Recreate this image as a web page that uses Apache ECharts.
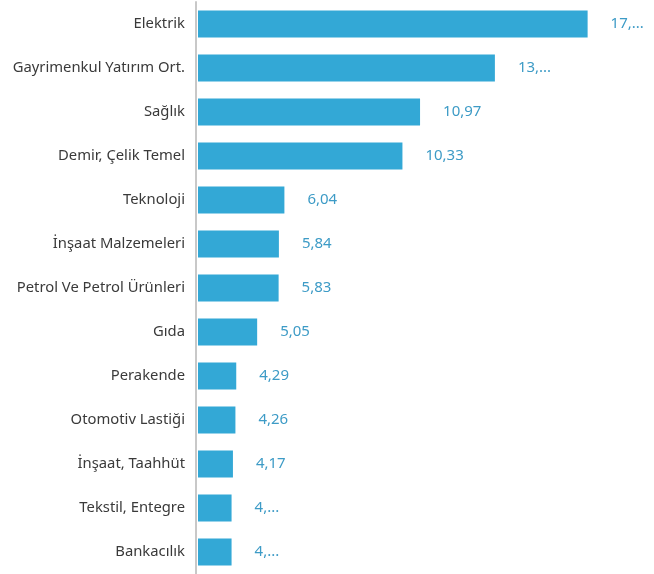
<!DOCTYPE html>
<html>
<head>
<meta charset="utf-8">
<script src="https://cdn.jsdelivr.net/npm/echarts@6/dist/echarts.min.js"></script>
<style>html,body{margin:0;padding:0;background:#fff;}#c{width:654px;height:574px;}</style>
</head>
<body>
<div id="c"></div>
<script>
const categories = ["Elektrik","Gayrimenkul Yatırım Ort.","Sağlık","Demir, Çelik Temel","Teknoloji","İnşaat Malzemeleri","Petrol Ve Petrol Ürünleri","Gıda","Perakende","Otomotiv Lastiği","İnşaat, Taahhüt","Tekstil, Entegre","Bankacılık"];
const values = [17.06,13.69,10.97,10.33,6.04,5.84,5.83,5.05,4.29,4.26,4.17,4.12,4.12];
const valueLabels = ["17,...","13,...","10,97","10,33","6,04","5,84","5,83","5,05","4,29","4,26","4,17","4,...","4,..."];

const chart = echarts.init(document.getElementById('c'), null, {renderer:'canvas'});
chart.setOption({
  animation:false,
  grid:{left:198, top:2, width:443, height:574, containLabel:false},
  xAxis:{type:'value', min:2.9, max:19, show:false},
  yAxis:{type:'category', data:categories, inverse:true, offset:2,
    axisLine:{show:true, lineStyle:{color:'#c8c8c8', width:2}},
    axisTick:{show:false},
    axisLabel:{color:'#3a3a3a', fontSize:14.8, fontFamily:'Noto Sans', margin:11}
  },
  series:[{
    type:'bar', data:values, barWidth:27,
    itemStyle:{color:'#33a8d6'},
    label:{show:true, position:'right', distance:23, color:'#3d9bc6', fontSize:15, fontFamily:'Noto Sans',
      formatter:(p)=>valueLabels[p.dataIndex]}
  }]
});
</script>
</body>
</html>
